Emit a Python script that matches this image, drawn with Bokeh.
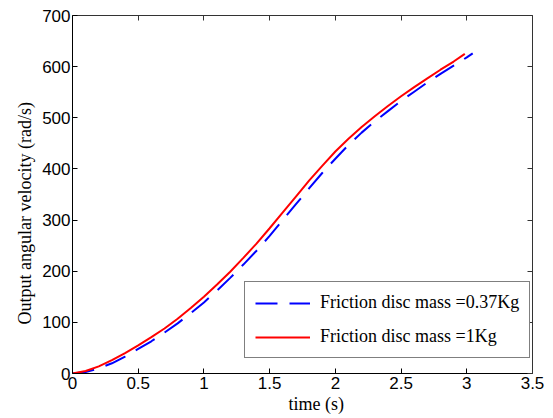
from bokeh.plotting import figure
from bokeh.models import Range1d, LinearAxis, FixedTicker, Legend, LegendItem, Title
from bokeh.embed import file_html
from bokeh.resources import INLINE

# time (s) and output angular velocity (rad/s)
t_light = [0.0, 0.1, 0.2, 0.3, 0.4, 0.5, 0.6, 0.7, 0.8, 0.9, 1.0, 1.1, 1.2, 1.3, 1.4,
           1.5, 1.6, 1.7, 1.8, 1.9, 2.0, 2.1, 2.2, 2.3, 2.4, 2.5, 2.6, 2.7, 2.8, 2.9,
           3.0, 3.045]
w_light = [0, 3, 10, 20, 33, 48, 63, 80, 98, 118, 139, 162, 187, 213, 240,
           269, 300, 331, 362, 392, 420, 447, 471, 493, 513, 533, 551, 569, 586, 602,
           618, 626]

t_heavy = [0.0, 0.1, 0.2, 0.3, 0.4, 0.5, 0.6, 0.7, 0.8, 0.9, 1.0, 1.1, 1.2, 1.3, 1.4,
           1.5, 1.6, 1.7, 1.8, 1.9, 2.0, 2.1, 2.2, 2.3, 2.4, 2.5, 2.6, 2.7, 2.8, 2.9,
           2.985]
w_heavy = [0, 5, 14, 26, 40, 55, 71, 88, 107, 128, 150, 174, 199, 226, 254,
           284, 315, 346, 377, 406, 434, 459, 482, 503, 523, 542, 560, 577, 594, 610,
           625]

x_ticks = [0, 0.5, 1, 1.5, 2, 2.5, 3, 3.5]
x_tick_labels = ["0", "0.5", "1", "1.5", "2", "2.5", "3", "3.5"]
y_ticks = [0, 100, 200, 300, 400, 500, 600, 700]
y_tick_labels = ["0", "100", "200", "300", "400", "500", "600", "700"]

label_light = "Friction disc mass =0.37Kg"
label_heavy = "Friction disc mass =1Kg"
x_title = "time (s)"
y_title = "Output angular velocity (rad/s)"

p = figure(width=553, height=418, output_backend="svg", toolbar_location=None,
           x_range=Range1d(0, 3.5), y_range=Range1d(0, 700),
           min_border_left=72, min_border_right=21, min_border_top=15, min_border_bottom=45)
p.outline_line_color = None
p.grid.visible = False
p.background_fill_color = "white"
p.border_fill_color = "white"

r1 = p.line(t_light, w_light, line_color="#0000ff", line_width=2, line_dash="22 12")
r2 = p.line(t_heavy, w_heavy, line_color="#ff0000", line_width=2)

tick_font = "Liberation Sans"
serif = "Liberation Serif"

for ax, ticks, labels in ((p.xaxis[0], x_ticks, x_tick_labels), (p.yaxis[0], y_ticks, y_tick_labels)):
    ax.ticker = FixedTicker(ticks=ticks)
    ax.major_label_overrides = {float(v): s for v, s in zip(ticks, labels)}
    ax.major_tick_in = 5
    ax.major_tick_out = 0
    ax.minor_tick_in = 0
    ax.minor_tick_out = 0
    ax.axis_line_color = "black"
    ax.major_tick_line_color = "black"
    ax.major_label_text_font = tick_font
    ax.major_label_text_font_size = "17px"
    ax.major_label_text_color = "black"

p.xaxis[0].major_label_standoff = 3
p.yaxis[0].major_label_standoff = 2

for side, ticks in (("above", x_ticks), ("right", y_ticks)):
    ax = LinearAxis(ticker=FixedTicker(ticks=ticks))
    ax.major_tick_in = 5
    ax.major_tick_out = 0
    ax.minor_tick_in = 0
    ax.minor_tick_out = 0
    ax.major_label_text_font_size = "0px"
    ax.major_label_standoff = 0
    ax.axis_line_color = "#333333"
    ax.major_tick_line_color = "#333333"
    p.add_layout(ax, side)

# axis titles placed as side titles so they can sit off-centre like the original
xt = Title(text=x_title, align="left", offset=216, standoff=0,
           text_font=serif, text_font_size="18px", text_font_style="normal",
           text_color="black")
p.add_layout(xt, "below")
yt = Title(text=y_title, align="left", offset=49, standoff=9,
           text_font=serif, text_font_size="18px", text_font_style="normal",
           text_color="black")
p.add_layout(yt, "left")

legend = Legend(items=[LegendItem(label=label_light, renderers=[r1]),
                       LegendItem(label=label_heavy, renderers=[r2])],
                location=(172, 15))
legend.label_text_font = serif
legend.label_text_font_size = "18px"
legend.label_text_color = "black"
legend.border_line_color = "black"
legend.border_line_width = 1
legend.background_fill_color = "white"
legend.background_fill_alpha = 1
legend.glyph_width = 55
legend.glyph_height = 20
legend.label_height = 20
legend.label_standoff = 10
legend.spacing = 13
legend.padding = 10
legend.margin = 0
p.add_layout(legend, "center")

open("out.html", "w").write(file_html(p, INLINE))
